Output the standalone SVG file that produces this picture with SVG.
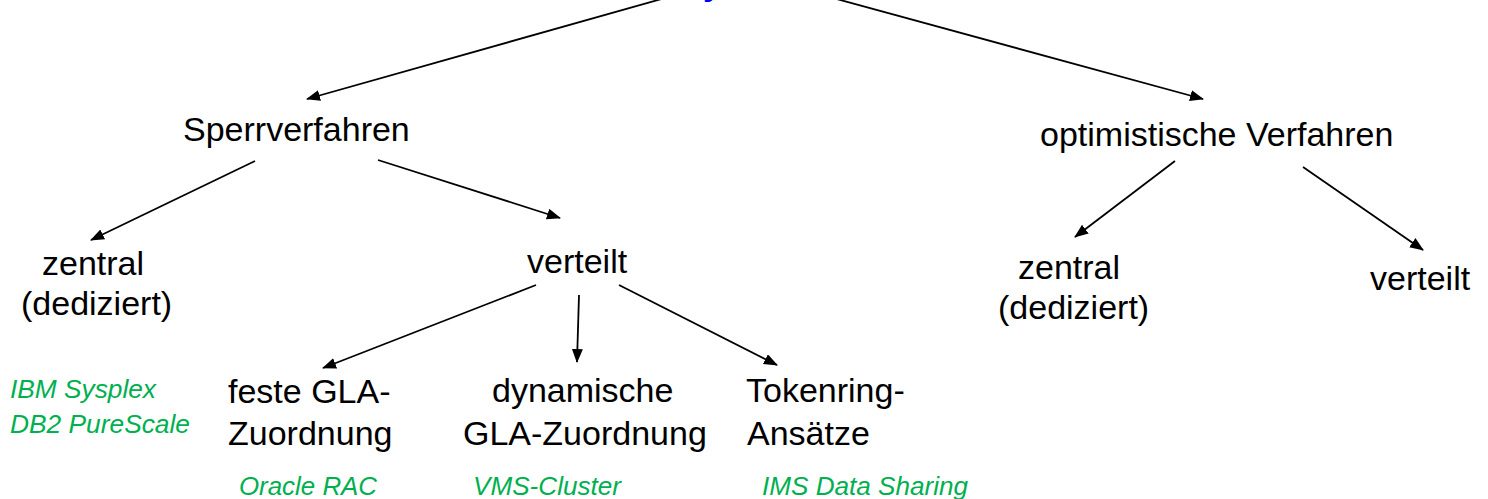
<svg xmlns="http://www.w3.org/2000/svg" width="1488" height="499" viewBox="0 0 1488 499">
<style>
.n{font-family:"Liberation Sans",Arial,sans-serif;font-size:34px;fill:#000}
.g{font-family:"Liberation Sans",Arial,sans-serif;font-size:26px;font-style:italic;fill:#00B050}
.t{font-family:"Liberation Sans",Arial,sans-serif;font-size:34px;font-weight:bold;fill:#0000FF}
.c{stroke:#000;stroke-width:1.8;fill:none;marker-end:url(#ah)}
</style>
<defs>
<marker id="ah" markerUnits="userSpaceOnUse" markerWidth="16" markerHeight="13" refX="13" refY="5.5" orient="auto">
<path d="M0,0 L14,5.5 L0,11 z" fill="#000"/>
</marker>
</defs>
<rect width="1488" height="499" fill="#fff"/>
<g id="title"><text class="t" x="703" y="-5">y</text></g>
<g id="connectors">
<line class="c" x1="665" y1="-2" x2="307" y2="99"/>
<line class="c" x1="833" y1="-2" x2="1203" y2="99"/>
<line class="c" x1="255" y1="161" x2="91" y2="240"/>
<line class="c" x1="378" y1="160" x2="560" y2="218"/>
<line class="c" x1="536" y1="285" x2="323" y2="368"/>
<line class="c" x1="579" y1="295" x2="577" y2="362"/>
<line class="c" x1="619" y1="285" x2="777" y2="365"/>
<line class="c" x1="1175" y1="161" x2="1075" y2="237"/>
<line class="c" x1="1303" y1="167" x2="1423" y2="250"/>
</g>
<g id="sperrverfahren"><text class="n" x="183" y="141">Sperrverfahren</text></g>
<g id="optimistisch"><text class="n" x="1040" y="146">optimistische Verfahren</text></g>
<g id="zentral-l"><text class="n" x="42" y="275">zentral</text><text class="n" x="21" y="315">(dediziert)</text></g>
<g id="verteilt-m"><text class="n" x="527" y="273">verteilt</text></g>
<g id="zentral-r"><text class="n" x="1018" y="279">zentral</text><text class="n" x="998" y="319">(dediziert)</text></g>
<g id="verteilt-r"><text class="n" x="1370" y="290">verteilt</text></g>
<g id="feste"><text class="n" x="228" y="403">feste GLA-</text><text class="n" x="228" y="445">Zuordnung</text></g>
<g id="dynamisch"><text class="n" x="492" y="402">dynamische</text><text class="n" x="463" y="445">GLA-Zuordnung</text></g>
<g id="tokenring"><text class="n" x="746" y="402">Tokenring-</text><text class="n" x="747" y="445">Ansätze</text></g>
<g id="ex-zentral"><text class="g" x="10" y="398" textLength="146" lengthAdjust="spacingAndGlyphs">IBM Sysplex</text><text class="g" x="10" y="433" textLength="180" lengthAdjust="spacingAndGlyphs">DB2 PureScale</text></g>
<g id="ex-feste"><text class="g" x="239" y="495" textLength="138" lengthAdjust="spacingAndGlyphs">Oracle RAC</text></g>
<g id="ex-dyn"><text class="g" x="473" y="495" textLength="148" lengthAdjust="spacingAndGlyphs">VMS-Cluster</text></g>
<g id="ex-token"><text class="g" x="762" y="495" textLength="206" lengthAdjust="spacingAndGlyphs">IMS Data Sharing</text></g>
</svg>
